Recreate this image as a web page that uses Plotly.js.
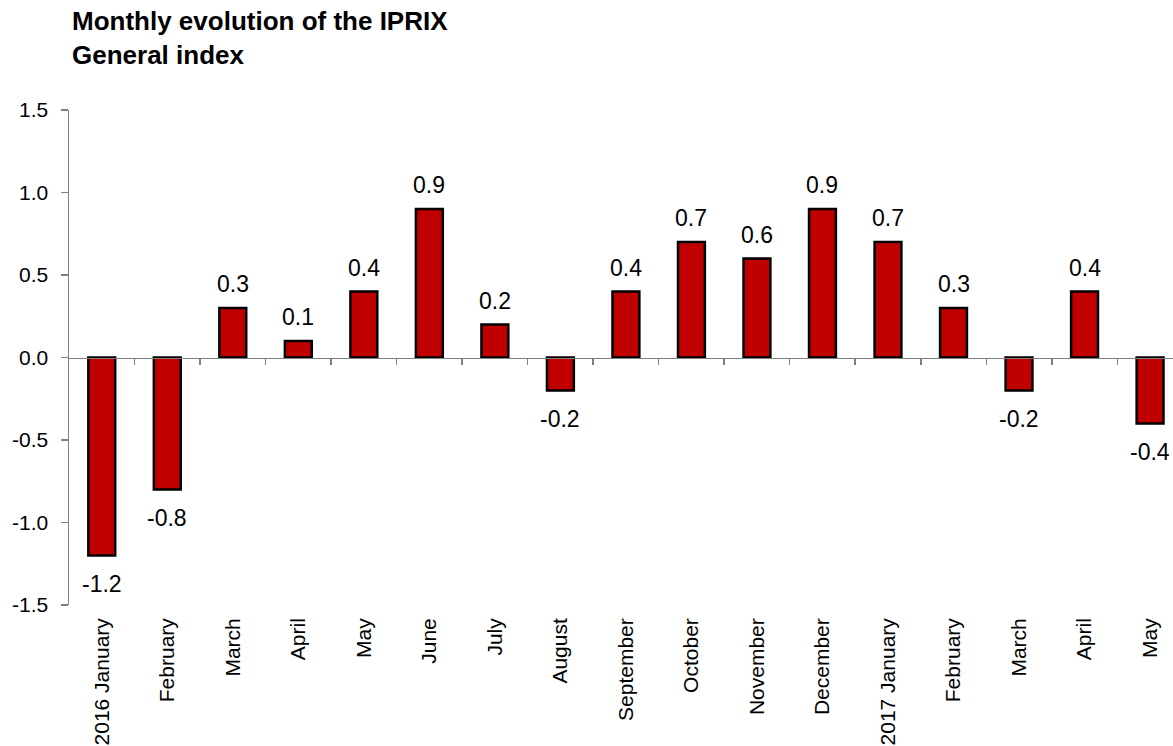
<!DOCTYPE html>
<html>
<head>
<meta charset="utf-8">
<script src="https://cdn.plot.ly/plotly-3.0.1.min.js"></script>
<style>html,body{margin:0;padding:0;background:#fff;}#chart{width:1173px;height:746px;}</style>
</head>
<body>
<div id="chart"></div>
<script>
const categories = ["2016 January","February","March","April","May","June","July","August","September","October","November","December","2017 January","February","March","April","May"];
const values = [-1.2,-0.8,0.3,0.1,0.4,0.9,0.2,-0.2,0.4,0.7,0.6,0.9,0.7,0.3,-0.2,0.4,-0.4];
const yTicks = [-1.5,-1.0,-0.5,0.0,0.5,1.0,1.5];
const titleText = '<b>Monthly evolution of the IPRIX<br>General index</b>';

const idx = categories.map((c,i)=>i);
const font = "Liberation Sans, Arial, sans-serif";

const trace = {
  type: 'bar',
  x: idx,
  y: values,
  width: 0.41,
  marker: {color: '#C00000', line: {color: '#000000', width: 2.5}},
  hoverinfo: 'skip'
};
const trace2 = {
  type: 'scatter', x: idx, y: values, xaxis: 'x2', mode: 'markers',
  marker: {opacity: 0}, hoverinfo: 'skip', showlegend: false
};

const annotations = values.map((v,i)=>({
  x: i, y: v, xref: 'x', yref: 'y',
  text: v.toFixed(1),
  showarrow: false,
  yanchor: 'middle',
  yshift: v >= 0 ? 24 : -28,
  font: {family: font, size: 23, color: '#000'}
}));
annotations.push({
  text: titleText, xref: 'paper', yref: 'paper', x: 0, y: 1,
  xanchor: 'left', yanchor: 'bottom', align: 'left', xshift: 1, yshift: 38,
  showarrow: false,
  font: {family: font, size: 26, color: '#000'}
});

const layout = {
  width: 1173, height: 746,
  margin: {l: 69, r: 0, t: 110, b: 141},
  paper_bgcolor: '#fff', plot_bgcolor: '#fff',
  showlegend: false,
  xaxis: {
    range: [-0.5, 16.35],
    tickmode: 'array', tickvals: idx, ticktext: categories,
    tickangle: -90, ticks: '', showline: false, showgrid: false, zeroline: false,
    tickfont: {family: font, size: 21, color: '#000'},
    ticklabelstandoff: 8, fixedrange: true
  },
  xaxis2: {
    overlaying: 'x', matches: 'x', anchor: 'free', position: 0.5, side: 'bottom',
    showline: true, linecolor: '#808080', linewidth: 1.5,
    ticks: 'outside', ticklen: 6, tickcolor: '#808080', tickwidth: 1.5,
    tickmode: 'array', tickvals: idx.slice(1).map(i=>i-0.5),
    showticklabels: false, showgrid: false, zeroline: false
  },
  yaxis: {
    range: [-1.5, 1.5],
    tickmode: 'array', tickvals: yTicks, ticktext: yTicks.map(v=>v.toFixed(1)),
    showline: true, linecolor: '#808080', linewidth: 1.5,
    ticks: 'outside', ticklen: 7, tickcolor: '#808080', tickwidth: 1.5,
    showgrid: false, zeroline: false,
    tickfont: {family: font, size: 21, color: '#000'},
    ticklabelstandoff: 8, fixedrange: true
  },
  annotations: annotations
};

Plotly.newPlot('chart', [trace, trace2], layout, {displayModeBar: false, staticPlot: true});
</script>
</body>
</html>
